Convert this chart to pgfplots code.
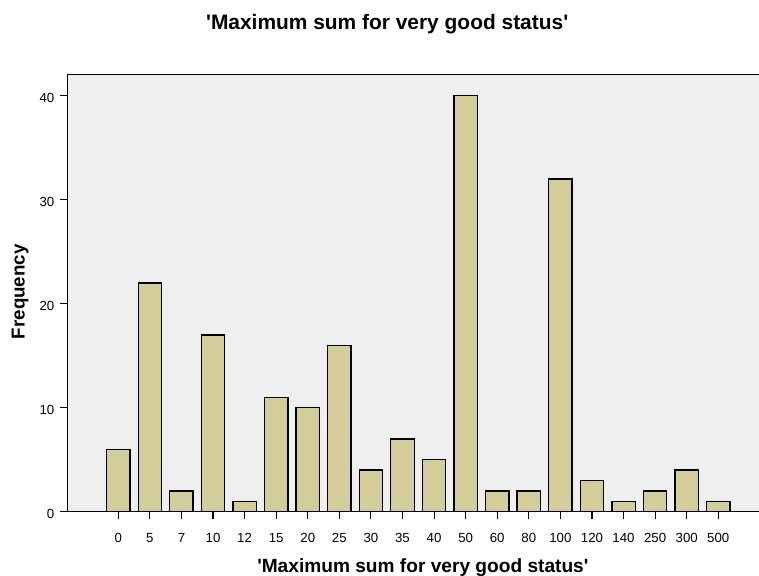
\documentclass[border=0pt]{standalone}
\usepackage{pgfplots}
\pgfplotsset{compat=1.18}
\usepackage{fontspec}
\setmainfont{Liberation Sans}
\definecolor{barfill}{HTML}{D3CE99}
\definecolor{bgfill}{HTML}{EFEFEF}
\begin{document}
\begin{tikzpicture}
\path[use as bounding box] (0,0) rectangle (759bp,576bp);
\begin{axis}[
  at={(67.3bp,64.3bp)}, anchor=south west,
  scale only axis, width=691.7bp, height=437.4bp,
  xmin=-1.615, xmax=20.29, ymin=0, ymax=42.06,
  axis lines=left, axis line style={-, line width=1.3pt, black},
  axis background/.style={fill=bgfill},
  ybar, bar width=0.74,
  xtick={0,...,19},
  xticklabels={0,5,7,10,12,15,20,25,30,35,40,50,60,80,100,120,140,250,300,500},
  ytick={0,10,20,30,40},
  tick align=outside, major tick length=7.5bp,
  tick style={line width=1.1pt, black},
  /pgf/number format/assume math mode=true,
  ticklabel style={font=\fontsize{13.3}{15}\selectfont},
  xticklabel style={yshift=-11bp},
  yticklabel style={xshift=-2bp, yshift=-2bp},
  title={\textquotesingle Maximum sum for very good status\textquotesingle},
  title style={font=\fontsize{21}{24}\selectfont\bfseries, at={(axis description cs:0.4624,1.0883)}, anchor=base},
  xlabel={\textquotesingle Maximum sum for very good status\textquotesingle},
  xlabel style={font=\fontsize{19.2}{22}\selectfont\bfseries, at={(axis description cs:0.514,-0.1386)}, anchor=base},
  ylabel={Frequency},
  ylabel style={font=\fontsize{18.8}{22}\selectfont\bfseries, at={(axis description cs:-0.0618,0.503)}, anchor=base},
]
\addplot[fill=barfill, draw=black, line width=1.3pt] coordinates {
(0,6) (1,22) (2,2) (3,17) (4,1) (5,11) (6,10) (7,16) (8,4) (9,7)
(10,5) (11,40) (12,2) (13,2) (14,32) (15,3) (16,1) (17,2) (18,4) (19,1)
};
\draw[line width=1.3pt, black] (rel axis cs:0,1) -- (rel axis cs:1,1);
\end{axis}
\end{tikzpicture}
\end{document}
